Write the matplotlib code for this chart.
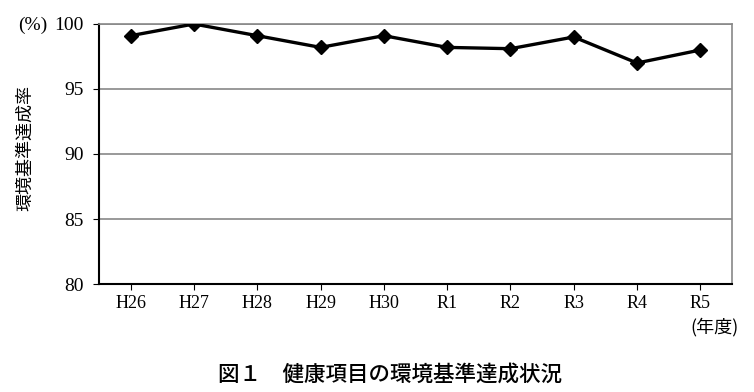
import numpy as np
import matplotlib.pyplot as plt

# data
years = ['H26', 'H27', 'H28', 'H29', 'H30', 'R1', 'R2', 'R3', 'R4', 'R5']
rate = [99.1, 100.0, 99.1, 98.2, 99.1, 98.2, 98.1, 99.0, 97.0, 98.0]
yticks = [80, 85, 90, 95, 100]

jp = ['Noto Sans CJK JP', 'DejaVu Sans']
serif = ['Liberation Serif', 'Noto Sans CJK JP']

fig = plt.figure(figsize=(7.54, 3.92), dpi=100)
ax = fig.add_axes([0.1313, 0.2755, 0.8395, 0.6633])

x = np.arange(len(years))
ax.plot(x, rate, color='black', lw=2.4, marker='D', ms=7, zorder=3)

ax.set_xlim(-0.5, len(years) - 0.5)
ax.set_ylim(80, 100)
ax.set_yticks(yticks)
ax.set_xticks(x)
ax.set_xticklabels(years, family=serif, fontsize=13)
for lab in ax.get_yticklabels():
    lab.set_family(serif)
    lab.set_fontsize(14)
ax.tick_params(axis='x', direction='out', length=4, pad=4, color='black')
ax.tick_params(axis='y', direction='out', length=4, pad=7, color='black')

ax.grid(axis='y', color='#888888', lw=1.2)
ax.set_axisbelow(True)
ax.spines['left'].set_color('black')
ax.spines['bottom'].set_color('black')
ax.spines['left'].set_linewidth(1.5)
ax.spines['bottom'].set_linewidth(1.5)
ax.spines['top'].set_color('#888888')
ax.spines['right'].set_color('#888888')
ax.spines['top'].set_linewidth(1.2)
ax.spines['right'].set_linewidth(1.2)

# labels
fig.text(33 / 754, 1 - 25 / 392, '(%)', family=serif, fontsize=14, ha='center', va='center')
fig.text(25 / 754, 1 - 148 / 392, '環境基準達成率', family=jp, fontsize=13,
         rotation=90, ha='center', va='center')
fig.text(715 / 754, 1 - 327 / 392, '(年度)', family=jp, fontsize=13, ha='center', va='center')
fig.text(390 / 754, 1 - 375 / 392, '図１　健康項目の環境基準達成状況', family=jp,
         fontsize=15.5, fontweight=500, ha='center', va='center')

plt.savefig('out.png', dpi=100)
